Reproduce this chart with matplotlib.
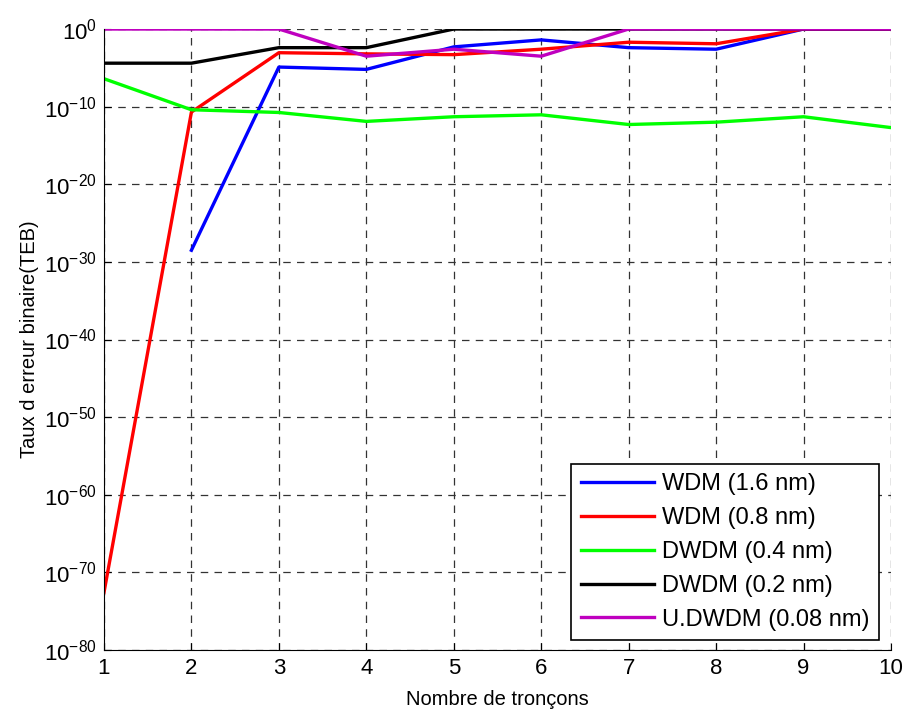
import matplotlib
matplotlib.use("Agg")
import matplotlib.pyplot as plt
import numpy as np
from matplotlib.ticker import FixedLocator, NullLocator, FuncFormatter

plt.rcParams["font.family"] = ["Liberation Sans", "DejaVu Sans"]
plt.rcParams["mathtext.fontset"] = "custom"
plt.rcParams["mathtext.rm"] = "Liberation Sans"
plt.rcParams["mathtext.default"] = "regular"

# log10 of the bit error rate
troncons = [1, 2, 3, 4, 5, 6, 7, 8, 9, 10]
wdm_16 = [np.nan, -28.5, -4.9, -5.2, -2.3, -1.4, -2.4, -2.6, 0, 0]
wdm_08 = [-72.6, -10.7, -3.05, -3.2, -3.3, -2.6, -1.7, -1.9, 0, 0]
dwdm_04 = [-6.4, -10.4, -10.75, -11.9, -11.3, -11.05, -12.3, -12.0, -11.3, -12.7]
dwdm_02 = [-4.4, -4.4, -2.4, -2.4, 0, 0, 0, 0, 0, 0]
udwdm_008 = [0, 0, 0, -3.5, -2.6, -3.5, 0, 0, 0, 0]

labels = ["WDM (1.6 nm)", "WDM (0.8 nm)", "DWDM (0.4 nm)",
          "DWDM (0.2 nm)", "U.DWDM (0.08 nm)"]
colors = ["#0000ff", "#ff0000", "#00ff00", "#000000", "#bf00bf"]
series = [wdm_16, wdm_08, dwdm_04, dwdm_02, udwdm_008]

FS = 16

fig = plt.figure(figsize=(9.08, 7.15), dpi=100)
ax = fig.add_axes([0.1145, 0.0909, 0.8668, 0.8685])

for vals, col, lbl in zip(series, colors, labels):
    ax.semilogy(troncons, 10.0 ** np.array(vals), color=col, lw=2.4, label=lbl)

ax.set_xlim(1, 10)
ax.set_ylim(1e-80, 1e0)
ax.xaxis.set_major_locator(FixedLocator(range(1, 11)))
ax.yaxis.set_major_locator(FixedLocator([10.0 ** k for k in range(-80, 1, 10)]))
ax.yaxis.set_minor_locator(NullLocator())
ax.yaxis.set_major_formatter(FuncFormatter(
    lambda v, p: r"$10^{%d}$" % int(round(np.log10(v)))))

ax.grid(True, which="major", color="#333333", linestyle=(0, (6, 5)), lw=0.9)
ax.tick_params(direction="in", labelsize=FS, length=5, color="black")
ax.tick_params(axis="x", pad=6)
ax.tick_params(axis="y", pad=5)
for side in ("top", "right"):
    ax.spines[side].set_visible(False)

ax.set_xlabel("Nombre de tronçons", fontsize=14.5, labelpad=8)
ax.set_ylabel("Taux d erreur binaire(TEB)", fontsize=14.5, labelpad=4)

leg = ax.legend(loc="lower right", fontsize=17, fancybox=False, framealpha=1,
                edgecolor="black", handlelength=3.1, handletextpad=0.35,
                borderpad=0.4, labelspacing=0.5, borderaxespad=0,
                bbox_to_anchor=(0.985, 0.016))
leg.get_frame().set_linewidth(1.2)

fig.savefig("out.png", dpi=100)
